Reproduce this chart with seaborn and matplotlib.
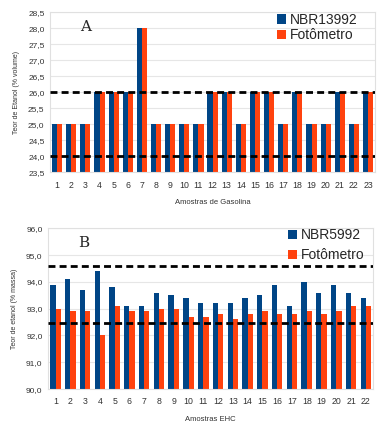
import matplotlib
matplotlib.use("Agg")
import matplotlib.pyplot as plt
import seaborn as sns
import pandas as pd
from matplotlib.ticker import FuncFormatter

# Painel A: gasolina
amostras_a = list(range(1, 24))
nbr13992 = [25, 25, 25, 26, 26, 26, 28, 25, 25, 25, 25, 26, 26, 25, 26, 26, 25, 26, 25, 25, 26, 25, 26]
fotometro_a = [25, 25, 25, 26, 26, 26, 28, 25, 25, 25, 25, 26, 26, 25, 26, 26, 25, 26, 25, 25, 26, 25, 26]
limites_a = [24.0, 26.0]

# Painel B: EHC
amostras_b = list(range(1, 23))
nbr5992 = [93.9, 94.1, 93.7, 94.4, 93.8, 93.1, 93.1, 93.6, 93.5, 93.4, 93.2,
           93.2, 93.2, 93.4, 93.5, 93.9, 93.1, 94.0, 93.6, 93.9, 93.6, 93.4]
fotometro_b = [93.0, 92.9, 92.9, 92.0, 93.1, 92.9, 92.9, 93.0, 93.0, 92.7, 92.7,
               92.8, 92.6, 92.8, 92.9, 92.8, 92.8, 92.9, 92.8, 92.9, 93.1, 93.1]
limites_b = [92.45, 94.6]

azul = "#004586"
laranja = "#ff420e"

sns.set_style("white")
plt.rcParams["font.family"] = ["Liberation Sans", "DejaVu Sans"]

fig = plt.figure(figsize=(3.82, 4.22), dpi=100)
ax_a = fig.add_axes([0.131, 0.592, 0.851, 0.379])
ax_b = fig.add_axes([0.126, 0.078, 0.851, 0.381])

virgula = FuncFormatter(lambda v, p: f"{v:.1f}".replace(".", ","))


def painel(ax, amostras, ref, foto, nome_ref, limites, ylim, passo, ylabel, xlabel, letra, leg_x, leg_y, leg_sp):
    df = pd.DataFrame({
        "amostra": [str(a) for a in amostras] * 2,
        "valor": ref + foto,
        "metodo": [nome_ref] * len(ref) + ["Fotômetro"] * len(foto),
    })
    sns.barplot(data=df, x="amostra", y="valor", hue="metodo", ax=ax,
                palette=[azul, laranja], width=0.72, saturation=1, legend=True,
                linewidth=0, edgecolor="none")
    ax.set_ylim(*ylim)
    ticks = [ylim[0] + i * passo for i in range(int(round((ylim[1] - ylim[0]) / passo)) + 1)]
    ax.set_yticks(ticks)
    ax.yaxis.set_major_formatter(virgula)
    ax.grid(axis="y", color="#e6e6e6", linewidth=0.8)
    ax.set_axisbelow(True)
    for v in limites:
        ax.axhline(v, color="black", linestyle=(0, (2.5, 1.5)), linewidth=2, zorder=5)
    for s in ax.spines.values():
        s.set_color("#e0e0e0")
        s.set_linewidth(0.8)
    ax.tick_params(axis="y", labelsize=6, length=0, pad=4, colors="#333333")
    ax.tick_params(axis="x", labelsize=6.3, length=0, pad=6, colors="#333333")
    ax.set_xlabel(xlabel, fontsize=5.5, color="#333333", labelpad=7)
    ax.set_ylabel(ylabel, fontsize=5, color="#333333", labelpad=6)
    ax.text(0.11, 0.91, letra, transform=ax.transAxes, fontsize=11,
            family="DejaVu Serif", ha="center", va="center")
    ax.legend(title=None, frameon=False, fontsize=10, loc="upper left",
              bbox_to_anchor=(leg_x, leg_y), handlelength=0.7, handleheight=0.7,
              handletextpad=0.25, labelspacing=leg_sp, borderaxespad=0)


painel(ax_a, amostras_a, nbr13992, fotometro_a, "NBR13992", limites_a, (23.5, 28.5), 0.5,
       "Teor de Etanol (% volume)", "Amostras de Gasolina", "A", 0.68, 1.03, 0.1)
painel(ax_b, amostras_b, nbr5992, fotometro_b, "NBR5992", limites_b, (90.0, 96.0), 1.0,
       "Teor de etanol (% massa)", "Amostras EHC", "B", 0.72, 1.035, 0.45)

fig.savefig("out.png", dpi=100)
